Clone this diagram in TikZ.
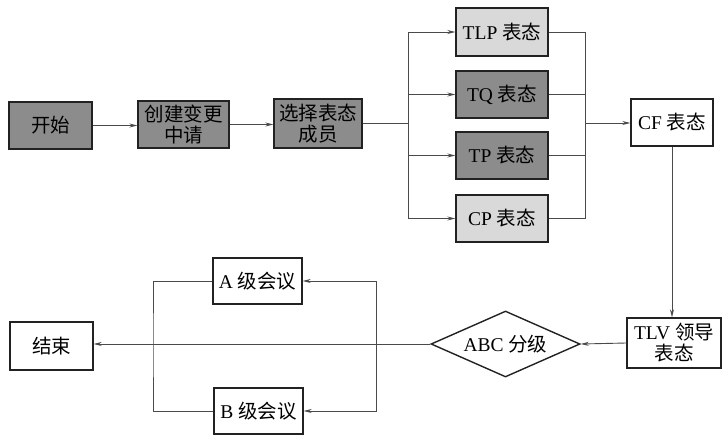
\documentclass[tikz,border=0pt]{standalone}
\usepackage{fontspec}
\setmainfont{Liberation Serif}
\newfontfamily\cjk{Noto Sans CJK SC}
\usetikzlibrary{shapes.geometric,arrows.meta}
\definecolor{darkfill}{HTML}{8C8C8C}
\definecolor{lightfill}{HTML}{D9D9D9}
\definecolor{linec}{HTML}{4A4A4A}
\definecolor{boxc}{HTML}{222222}
\tikzset{
  box/.style={draw=boxc, line width=1.4pt, rectangle, inner sep=1pt, align=center,
    font=\fontsize{19.5}{21}\selectfont},
  dark/.style={box, fill=darkfill},
  light/.style={box, fill=lightfill},
  plain/.style={box, fill=white},
  conn/.style={draw=linec, line width=0.9pt},
  arr/.style={conn, -{Stealth[length=8pt,width=4pt]}},
}
\begin{document}
\begin{tikzpicture}[x=1pt,y=-1pt]
\useasboundingbox (0,0) rectangle (728,439);
% top row
\node[dark, minimum width=83pt, minimum height=47pt] (start) at (50.5,125.5) {\cjk 开始};
\node[dark, minimum width=91pt, minimum height=47pt] (create) at (183.5,124.5) {\cjk 创建变更\\\cjk 中请};
\node[dark, minimum width=88pt, minimum height=49pt] (select) at (318,123.5) {\cjk 选择表态\\\cjk 成员};
\node[light, minimum width=92pt, minimum height=48pt] (tlp) at (502,32) {TLP {\cjk 表态}};
\node[dark, minimum width=92pt, minimum height=47pt] (tq) at (502,94.5) {TQ {\cjk 表态}};
\node[dark, minimum width=92pt, minimum height=47pt] (tp) at (502,155.5) {TP {\cjk 表态}};
\node[light, minimum width=92pt, minimum height=47pt] (cp) at (502,218.5) {CP {\cjk 表态}};
\node[plain, minimum width=82pt, minimum height=47pt] (cf) at (672,122.5) {CF {\cjk 表态}};
% bottom row
\node[plain, minimum width=94pt, minimum height=50pt] (tlv) at (674,343) {TLV {\cjk 领导}\\\cjk 表态};
\node[plain, diamond, aspect=2.26, minimum width=149pt, minimum height=66pt, inner sep=0pt] (abc) at (505.5,344) {ABC {\cjk 分级}};
\node[plain, minimum width=83pt, minimum height=48pt] (end) at (51.5,346) {\cjk 结束};
\node[plain, minimum width=89pt, minimum height=46pt] (a) at (257.5,281) {A {\cjk 级会议}};
\node[plain, minimum width=89pt, minimum height=46pt] (b) at (258.5,411) {B {\cjk 级会议}};
% junction coordinates
\coordinate (fanL) at (408,123.5);
\coordinate (fanR) at (585,123);
\coordinate (jL) at (153,344);
\coordinate (jR) at (376,344);
% connectors top
\draw[arr] (start.east) -- (start.east -| create.west);
\draw[arr] (create.east) -- (create.east -| select.west);
\draw[conn] (select.east) -- (fanL);
\draw[conn] (fanL |- tlp) -- (fanL |- cp);
\foreach \n in {tlp,tq,tp,cp} {
  \draw[arr] (fanL |- \n) -- (\n.west);
  \draw[conn] (\n.east) -- (fanR |- \n);
}
\draw[conn] (fanR |- tlp) -- (fanR |- cp);
\draw[arr] (fanR) -- (fanR -| cf.west);
\draw[arr] (cf.south) -- (cf.south |- tlv.north);
% connectors bottom
\draw[arr] (tlv.west) -- (abc.east);
\draw[arr] (abc.west) -- (abc.west -| end.east);
\draw[arr] (jR) |- (a.east);
\draw[arr] (jR) |- (b.east);
\draw[conn] (a.west) -| (jL) |- (b.west);
\end{tikzpicture}
\end{document}
